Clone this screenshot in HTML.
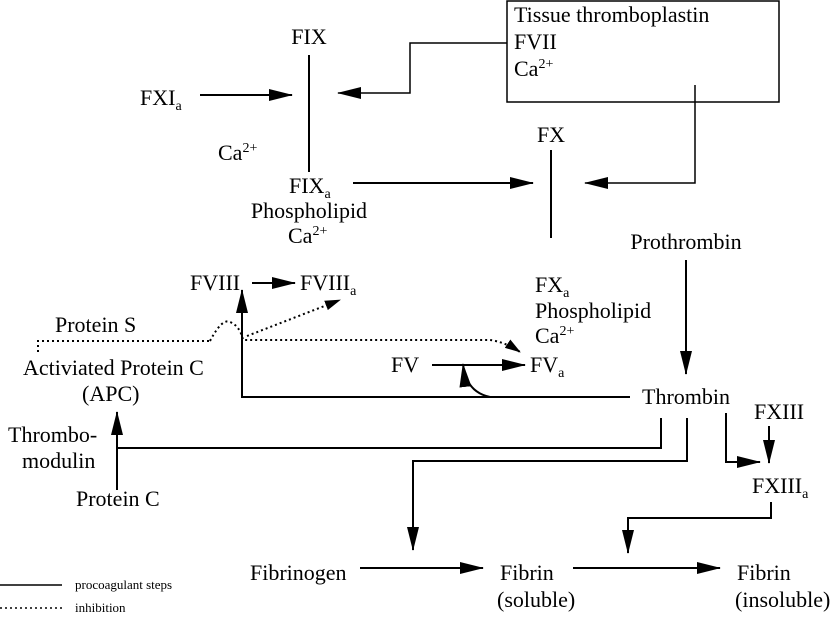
<!DOCTYPE html>
<html><head><meta charset="utf-8"><style>
html,body{margin:0;padding:0;background:#fff;}
svg{display:block;}
text{font-family:"Liberation Serif",serif;font-size:22px;fill:#000;}
.s{font-size:13px;}
.sub{font-size:14px;}
</style></head><body>
<svg width="832" height="618" viewBox="0 0 832 618" xmlns="http://www.w3.org/2000/svg">
<defs>
<marker id="a" markerWidth="16" markerHeight="10" refX="15" refY="5" orient="auto" markerUnits="userSpaceOnUse"><path d="M0,0 L16,5 L0,10 Z" fill="#000"/></marker>
<marker id="b" markerWidth="24" markerHeight="12" refX="23" refY="6" orient="auto" markerUnits="userSpaceOnUse"><path d="M0,0 L24,6 L0,12 Z" fill="#000"/></marker>
</defs>
<g stroke="#000" stroke-width="2" fill="none">
<rect x="507" y="1" width="272" height="101" stroke-width="1.5"/>
<line x1="309" y1="55" x2="309" y2="172"/>
<line x1="200" y1="95" x2="292" y2="95" marker-end="url(#b)"/>
<polyline points="507,43 410,43 410,93 338,93" stroke-width="1.5" marker-end="url(#b)"/>
<line x1="353" y1="183" x2="533" y2="183" marker-end="url(#b)"/>
<line x1="551" y1="150" x2="551" y2="238"/>
<polyline points="695,85 695,183 585,183" stroke-width="1.5" marker-end="url(#b)"/>
<line x1="686" y1="260" x2="686" y2="374" marker-end="url(#b)"/>
<line x1="252" y1="283" x2="295" y2="283" marker-end="url(#b)"/>
<polyline points="630,397 242,397 242,290" marker-end="url(#b)"/>
<line x1="432" y1="365" x2="525" y2="365" marker-end="url(#b)"/>
<path d="M490,397 Q466,392 463,364" marker-end="url(#b)"/>
<polyline points="661,418 661,448 117,448"/>
<line x1="117" y1="490" x2="117" y2="412" marker-end="url(#b)"/>
<polyline points="687,418 687,461 413,461 413,550" marker-end="url(#b)"/>
<polyline points="726,413 726,462 760,462" marker-end="url(#b)"/>
<line x1="769" y1="426" x2="769" y2="463" marker-end="url(#b)"/>
<polyline points="771,502 771,518 628,518 628,553" marker-end="url(#b)"/>
<line x1="360" y1="568" x2="483" y2="568" marker-end="url(#b)"/>
<line x1="573" y1="568" x2="720" y2="568" marker-end="url(#b)"/>
<line x1="0" y1="585" x2="62" y2="585" stroke-width="1.5"/>
</g>
<g stroke="#000" stroke-width="2" fill="none" stroke-dasharray="2,3">
<polyline points="38,352 38,341 210,341"/>
<path d="M210,341 Q222,318 230,322 Q240,326 243,340 L490,340 Q505,342 520,352" marker-end="url(#a)"/>
<line x1="247" y1="336" x2="340" y2="300" marker-end="url(#a)"/>
<line x1="0" y1="608" x2="62" y2="608" stroke-width="1.5"/>
</g>
<text x="514" y="22">Tissue thromboplastin</text>
<text x="514" y="49">FVII</text>
<text x="514" y="76">Ca<tspan class="sub" dy="-8">2+</tspan></text>
<text x="309" y="44" text-anchor="middle">FIX</text>
<text x="140" y="105">FXI<tspan class="sub" dy="5">a</tspan></text>
<text x="218" y="160">Ca<tspan class="sub" dy="-8">2+</tspan></text>
<text x="289" y="193">FIX<tspan class="sub" dy="5">a</tspan></text>
<text x="309" y="218" text-anchor="middle">Phospholipid</text>
<text x="288" y="243">Ca<tspan class="sub" dy="-8">2+</tspan></text>
<text x="551" y="142" text-anchor="middle">FX</text>
<text x="535" y="292">FX<tspan class="sub" dy="5">a</tspan></text>
<text x="535" y="318">Phospholipid</text>
<text x="535" y="343">Ca<tspan class="sub" dy="-8">2+</tspan></text>
<text x="686" y="249" text-anchor="middle">Prothrombin</text>
<text x="686" y="404" text-anchor="middle">Thrombin</text>
<text x="190" y="290">FVIII</text>
<text x="300" y="290">FVIII<tspan class="sub" dy="5">a</tspan></text>
<text x="55" y="332">Protein S</text>
<text x="23" y="375">Activiated Protein C</text>
<text x="82" y="401">(APC)</text>
<text x="391" y="372">FV</text>
<text x="530" y="372">FV<tspan class="sub" dy="5">a</tspan></text>
<text x="8" y="442">Thrombo-</text>
<text x="22" y="468">modulin</text>
<text x="76" y="506">Protein C</text>
<text x="754" y="419">FXIII</text>
<text x="752" y="493">FXIII<tspan class="sub" dy="5">a</tspan></text>
<text x="250" y="580">Fibrinogen</text>
<text x="500" y="580">Fibrin</text>
<text x="497" y="607">(soluble)</text>
<text x="737" y="580">Fibrin</text>
<text x="735" y="607">(insoluble)</text>
<text class="s" x="75" y="589">procoagulant steps</text>
<text class="s" x="75" y="612">inhibition</text>
</svg>
</body></html>
